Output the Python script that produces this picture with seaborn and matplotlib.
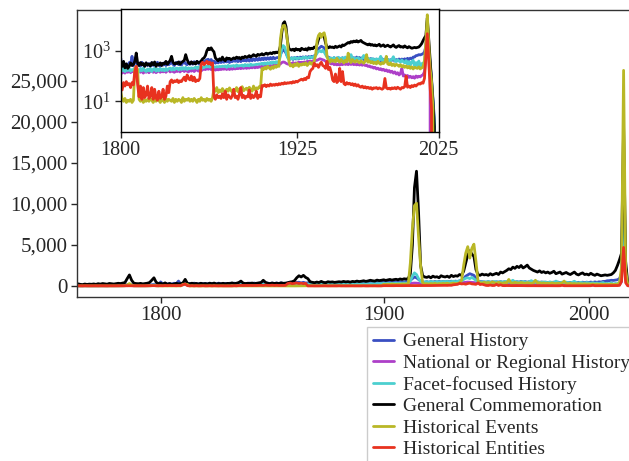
import numpy as np
import pandas as pd
import matplotlib
matplotlib.use("Agg")
import matplotlib.pyplot as plt
from matplotlib.lines import Line2D
from matplotlib.ticker import FuncFormatter, FixedLocator, NullLocator
import seaborn as sns

# Yearly counts, 1760-2024
YEARS = list(range(1760, 2025))

general_history = [
    40, 60, 35, 50, 70, 45, 55, 40, 65, 50,            # 1760s
    60, 45, 70, 55, 80, 50, 65, 75, 55, 70,            # 1770s
    60, 80, 90, 70, 85, 150, 200, 120, 80, 70,         # 1780s
    85, 70, 95, 80, 90, 100, 150, 180, 110, 100,       # 1790s
    500, 240, 330, 220, 300, 230, 340, 280, 600, 250,  # 1800s
    340, 420, 260, 320, 240, 350, 270, 250, 330, 260,  # 1810s
    310, 240, 340, 260, 320, 250, 350, 270, 240, 320,  # 1820s
    270, 340, 260, 350, 280, 310, 360, 290, 260, 330,  # 1830s
    350, 280, 360, 270, 330, 370, 300, 280, 360, 290,  # 1840s
    360, 290, 370, 300, 380, 310, 290, 370, 390, 330,  # 1850s
    410, 440, 460, 370, 450, 360, 390, 320, 380, 330,  # 1860s
    390, 340, 380, 350, 400, 360, 410, 340, 400, 370,  # 1870s
    420, 380, 410, 370, 450, 370, 440, 400, 430, 390,  # 1880s
    460, 390, 470, 400, 480, 410, 490, 420, 500, 430,  # 1890s
    510, 440, 520, 450, 530, 460, 540, 470, 550, 480,  # 1900s
    520, 540, 510, 700, 900, 1100, 1000, 800, 600, 500,  # 1910s
    460, 530, 450, 540, 470, 550, 480, 560, 490, 570,  # 1920s
    500, 580, 510, 590, 520, 600, 540, 630, 680, 900,  # 1930s
    1200, 1350, 1500, 1400, 1300, 900, 600, 550, 520, 500,  # 1940s
    460, 530, 450, 520, 440, 510, 470, 530, 460, 510,  # 1950s
    480, 540, 490, 560, 480, 530, 470, 560, 480, 540,  # 1960s
    460, 530, 450, 510, 440, 500, 430, 490, 440, 470,  # 1970s
    430, 460, 440, 470, 400, 480, 410, 440, 420, 450,  # 1980s
    410, 440, 420, 460, 390, 450, 400, 470, 410, 470,  # 1990s
    420, 480, 430, 500, 440, 510, 480, 560, 560, 640,  # 2000s
    650, 700, 680, 720, 760, 900, 1500, 16000, 1500, 300,  # 2010s
    80, 12, 2, 0, 0,                                   # 2020-2024
]

national_regional_history = [
    10, 15, 12, 18, 10, 14, 20, 12, 16, 15,
    18, 12, 20, 15, 22, 17, 14, 24, 19, 16,
    20, 18, 24, 22, 26, 40, 60, 35, 22, 20,
    26, 22, 28, 24, 26, 30, 45, 55, 35, 28,
    150, 130, 165, 130, 155, 140, 165, 135, 160, 145,
    160, 170, 135, 155, 140, 165, 130, 155, 140, 160,
    135, 155, 165, 140, 160, 135, 150, 170, 140, 160,
    145, 165, 140, 160, 170, 145, 165, 150, 140, 165,
    150, 170, 145, 165, 175, 150, 170, 155, 145, 170,
    155, 175, 150, 170, 180, 155, 175, 160, 180, 185,
    180, 200, 185, 205, 180, 185, 195, 170, 190, 175,
    190, 180, 195, 185, 200, 180, 205, 180, 200, 185,
    200, 190, 205, 195, 210, 195, 215, 200, 220, 200,
    215, 205, 225, 210, 230, 210, 235, 215, 240, 220,
    245, 225, 250, 230, 255, 235, 260, 240, 265, 245,
    270, 250, 275, 300, 340, 360, 350, 320, 300, 290,
    310, 290, 340, 300, 330, 310, 360, 320, 350, 330,
    360, 340, 380, 350, 390, 360, 400, 370, 410, 420,
    450, 480, 460, 440, 420, 380, 350, 330, 320, 300,
    320, 280, 310, 275, 305, 270, 310, 280, 320, 285,
    310, 280, 320, 285, 315, 280, 310, 275, 305, 270,
    290, 265, 295, 260, 270, 240, 250, 225, 230, 205,
    220, 190, 205, 180, 195, 170, 185, 160, 175, 150,
    165, 140, 155, 130, 145, 120, 135, 110, 125, 200,
    100, 110, 92, 105, 88, 98, 85, 95, 82, 100,
    88, 98, 92, 105, 110, 150, 500, 9000, 800, 100,
    0, 0, 0, 0, 0,
]

facet_focused_history = [
    20, 30, 25, 35, 20, 30, 40, 25, 35, 30,
    35, 25, 40, 30, 45, 35, 30, 50, 40, 35,
    45, 40, 50, 55, 60, 80, 120, 70, 50, 45,
    55, 45, 60, 50, 55, 65, 90, 110, 70, 60,
    190, 160, 200, 150, 185, 165, 200, 155, 180, 170,
    200, 215, 165, 150, 195, 160, 205, 165, 150, 190,
    160, 195, 150, 185, 200, 155, 190, 160, 195, 165,
    190, 160, 200, 165, 195, 205, 170, 210, 175, 200,
    205, 175, 210, 180, 215, 185, 220, 180, 210, 195,
    210, 200, 205, 225, 195, 230, 200, 190, 225, 215,
    240, 230, 260, 225, 255, 220, 230, 225, 235, 230,
    240, 235, 245, 240, 250, 220, 265, 235, 250, 250,
    260, 230, 275, 245, 255, 260, 270, 240, 285, 255,
    280, 250, 295, 265, 275, 280, 290, 290, 300, 295,
    320, 285, 330, 295, 340, 305, 350, 315, 360, 325,
    370, 335, 390, 600, 1200, 1600, 1400, 900, 550, 450,
    480, 520, 460, 540, 500, 470, 530, 510, 490, 550,
    520, 560, 500, 540, 580, 530, 570, 600, 650, 800,
    950, 1000, 900, 1050, 880, 700, 560, 520, 480, 510,
    470, 540, 480, 450, 550, 490, 470, 530, 460, 560,
    500, 470, 530, 700, 470, 520, 450, 500, 530, 470,
    450, 510, 650, 470, 440, 500, 460, 430, 490, 450,
    420, 480, 440, 410, 600, 430, 400, 470, 420, 460,
    410, 390, 460, 580, 400, 370, 440, 390, 350, 430,
    370, 330, 410, 290, 370, 270, 360, 420, 240, 340,
    250, 390, 230, 310, 270, 400, 1200, 13000, 1200, 250,
    60, 10, 1.5, 0, 0,
]

general_commemoration = [
    180, 220, 150, 260, 200, 170, 240, 190, 230, 210,
    250, 200, 280, 230, 300, 260, 220, 310, 270, 240,
    290, 330, 300, 360, 420, 900, 1350, 700, 340, 300,
    280, 320, 260, 300, 340, 420, 700, 1000, 450, 300,
    330, 240, 380, 210, 300, 200, 240, 330, 260, 290,
    380, 810, 320, 260, 340, 280, 310, 240, 330, 270,
    300, 250, 340, 280, 360, 240, 300, 270, 330, 260,
    320, 300, 380, 290, 340, 420, 600, 350, 300, 330,
    310, 360, 290, 340, 380, 420, 700, 450, 330, 300,
    360, 310, 340, 300, 380, 330, 350, 400, 480, 520,
    650, 1000, 1250, 1100, 1300, 1050, 900, 520, 450, 400,
    480, 420, 560, 440, 400, 520, 470, 500, 440, 480,
    520, 480, 560, 500, 540, 470, 560, 520, 600, 540,
    580, 640, 560, 620, 700, 640, 600, 720, 660, 700,
    760, 680, 740, 800, 720, 780, 820, 760, 860, 800,
    880, 840, 920, 1500, 5000, 12000, 14000, 9000, 2500, 1250,
    1100, 1050, 1150, 1000, 1200, 1080, 1130, 1000, 1250, 1150,
    1100, 1200, 1050, 1300, 1150, 1250, 1200, 1400, 1300, 1800,
    2800, 3800, 4300, 3900, 3600, 2000, 1400, 1300, 1450, 1350,
    1400, 1300, 1500, 1350, 1450, 1550, 1400, 1700, 1600, 1750,
    1900, 2100, 2000, 2300, 2150, 2400, 2250, 2500, 2200, 2350,
    2550, 2200, 2050, 1900, 1800, 1700, 1850, 1650, 1750, 1600,
    1700, 1550, 1650, 1800, 1500, 1600, 1700, 1450, 1550, 1650,
    1500, 1400, 1550, 1700, 1450, 1350, 1500, 1600, 1400, 1450,
    1350, 1550, 1400, 1300, 1450, 1350, 1250, 1300, 1350, 1300,
    1350, 1400, 1600, 1900, 2500, 3200, 4000, 19500, 3000, 400,
    80, 10, 1, 0, 0,
]

historical_events = [
    8, 12, 6, 10, 14, 9, 7, 12, 10, 8,
    11, 9, 13, 7, 10, 12, 8, 14, 10, 9,
    12, 10, 15, 14, 20, 120, 300, 90, 20, 12,
    13, 11, 9, 14, 12, 18, 40, 60, 18, 12,
    25, 12, 10, 13, 9, 11, 10, 12, 9, 11,
    200, 240, 180, 12, 10, 13, 9, 11, 10, 12,
    10, 13, 11, 9, 12, 10, 14, 11, 9, 12,
    11, 9, 13, 10, 12, 11, 10, 13, 9, 12,
    10, 12, 11, 9, 14, 10, 12, 11, 13, 10,
    12, 10, 13, 11, 9, 12, 10, 14, 11, 12,
    10, 13, 11, 12, 10, 14, 30, 25, 35, 22,
    28, 24, 32, 26, 22, 30, 25, 34, 27, 23,
    29, 26, 35, 24, 31, 28, 38, 26, 30, 33,
    27, 36, 30, 25, 40, 29, 34, 31, 38, 35,
    200, 180, 220, 190, 240, 210, 185, 230, 200, 250,
    220, 260, 240, 2800, 7000, 9800, 10100, 6000, 2500, 400,
    250, 280, 230, 300, 260, 320, 240, 290, 270, 310,
    280, 330, 260, 300, 350, 290, 320, 380, 700, 2500,
    4000, 4800, 3400, 4600, 5100, 3000, 600, 400, 350, 450,
    380, 420, 360, 500, 400, 350, 450, 380, 330, 420,
    360, 800, 400, 340, 450, 380, 350, 420, 370, 330,
    400, 360, 320, 380, 700, 350, 400, 330, 370, 310,
    350, 300, 380, 320, 290, 340, 310, 360, 600, 300,
    280, 330, 260, 300, 250, 290, 270, 240, 280, 230,
    260, 220, 250, 210, 240, 200, 230, 190, 220, 210,
    200, 230, 190, 210, 220, 400, 2300, 26300, 2000, 200,
    60, 5, 0, 0, 0,
]

historical_entities = [
    20, 15, 25, 18, 22, 15, 28, 20, 17, 24,
    20, 26, 18, 30, 22, 25, 19, 28, 24, 21,
    26, 30, 24, 35, 40, 28, 32, 26, 30, 28,
    32, 28, 35, 30, 38, 45, 40, 34, 30, 36,
    30, 28, 55, 40, 60, 45, 50, 35, 55, 45,
    150, 240, 45, 15, 40, 12, 35, 14, 18, 40,
    13, 16, 35, 12, 30, 14, 11, 25, 13, 15,
    30, 12, 16, 40, 22, 60, 70, 55, 65, 60,
    70, 55, 65, 60, 75, 90, 65, 110, 80, 70,
    100, 65, 90, 60, 70, 65, 80, 300, 350, 280,
    320, 380, 300, 350, 280, 330, 15, 12, 18, 14,
    16, 13, 20, 14, 25, 12, 18, 15, 13, 17,
    30, 14, 16, 12, 19, 35, 14, 17, 13, 16,
    15, 28, 13, 18, 14, 16, 25, 13, 17, 15,
    42, 40, 45, 38, 44, 40, 48, 42, 46, 43,
    48, 44, 50, 46, 52, 48, 55, 50, 54, 52,
    56, 52, 60, 55, 62, 58, 65, 70, 75, 68,
    80, 72, 90, 85, 150, 180, 200, 320, 250, 280,
    220, 300, 350, 260, 240, 200, 380, 180, 220, 140,
    70, 60, 120, 55, 65, 200, 60, 150, 50, 45,
    55, 48, 52, 45, 50, 42, 48, 40, 45, 38,
    36, 40, 34, 38, 33, 36, 32, 35, 30, 34,
    33, 35, 31, 34, 32, 30, 33, 80, 34, 31,
    33, 30, 34, 32, 35, 31, 36, 33, 30, 35,
    34, 38, 100, 36, 40, 35, 42, 38, 44, 40,
    46, 50, 48, 55, 52, 80, 600, 4700, 400, 35,
    5, 0, 0, 0, 0,
]

CATEGORIES = [
    "General History",
    "National or Regional History",
    "Facet-focused History",
    "General Commemoration",
    "Historical Events",
    "Historical Entities",
]
SERIES = [
    general_history,
    national_regional_history,
    facet_focused_history,
    general_commemoration,
    historical_events,
    historical_entities,
]
COLORS = ["#3a4fc2", "#ad3fc8", "#4ccfcf", "#000000", "#b9b726", "#e8321f"]

df = pd.concat(
    [pd.DataFrame({"year": YEARS, "count": vals, "category": name})
     for name, vals in zip(CATEGORIES, SERIES)],
    ignore_index=True,
)

sns.set_style("ticks")
plt.rcParams["font.family"] = ["Liberation Serif", "DejaVu Serif"]
plt.rcParams["mathtext.fontset"] = "custom"
plt.rcParams["mathtext.rm"] = "Liberation Serif"

W, H = 629, 461
fig = plt.figure(figsize=(W / 100, H / 100), dpi=100)

# ---- main panel (linear counts) ----
ax = fig.add_axes([77 / W, 1 - 296.7 / H, (660.5 - 77) / W, (296.7 - 10.5) / H])
sns.lineplot(data=df, x="year", y="count", hue="category", hue_order=CATEGORIES,
             palette=COLORS, linewidth=2, estimator=None, errorbar=None,
             legend=False, ax=ax)

# the pre-1900 part of the time axis is drawn slightly wider
STRETCH = 223 / 205


def _fwd(x):
    x = np.asarray(x, dtype=float)
    return np.where(x < 1900, 1900 + (x - 1900) * STRETCH, x)


def _inv(u):
    u = np.asarray(u, dtype=float)
    return np.where(u < 1900, 1900 + (u - 1900) / STRETCH, u)


ax.set_xscale("function", functions=(_fwd, _inv))
ax.set_xlim(1762.5, 2035)
ax.set_ylim(-1305, 33600)
ax.xaxis.set_major_locator(FixedLocator([1800, 1900, 2000]))
ax.xaxis.set_minor_locator(NullLocator())
ax.yaxis.set_major_locator(FixedLocator([0, 5000, 10000, 15000, 20000, 25000]))
ax.yaxis.set_major_formatter(FuncFormatter(lambda v, _: f"{v:,.0f}"))
ax.set_xlabel("")
ax.set_ylabel("")
ax.tick_params(axis="both", labelsize=15, length=4, width=1, pad=3)
for sp in ax.spines.values():
    sp.set_color("0.2")
    sp.set_linewidth(1)

# ---- inset (log counts, 1800-2025) ----
axin = fig.add_axes([120.7 / W, 1 - 131.7 / H, (438.6 - 120.7) / W, (131.7 - 9.3) / H])
sns.lineplot(data=df, x="year", y="count", hue="category", hue_order=CATEGORIES,
             palette=COLORS, linewidth=2, estimator=None, errorbar=None,
             legend=False, ax=axin)
axin.set_facecolor("white")
axin.set_yscale("log")
axin.set_xlim(1800, 2025)
axin.set_ylim(0.63, 43300)
axin.xaxis.set_major_locator(FixedLocator([1800, 1925, 2025]))
axin.yaxis.set_major_locator(FixedLocator([10, 1000]))
axin.yaxis.set_minor_locator(NullLocator())
axin.set_xlabel("")
axin.set_ylabel("")
axin.tick_params(axis="both", labelsize=14.5, length=4, width=1, pad=3)
for sp in axin.spines.values():
    sp.set_color("black")
    sp.set_linewidth(1)

# ---- legend ----
handles = [Line2D([], [], color=c, linewidth=2) for c in COLORS]
fig.legend(handles, CATEGORIES, loc="upper left",
           bbox_to_anchor=(366.7 / W, 1 - 327 / H), bbox_transform=fig.transFigure,
           frameon=True, fancybox=False, edgecolor="0.8", framealpha=1,
           fontsize=14, handlelength=1.1, handletextpad=0.45,
           labelspacing=0.2, borderpad=0.3, borderaxespad=0)

fig.savefig("out.png", dpi=100)
